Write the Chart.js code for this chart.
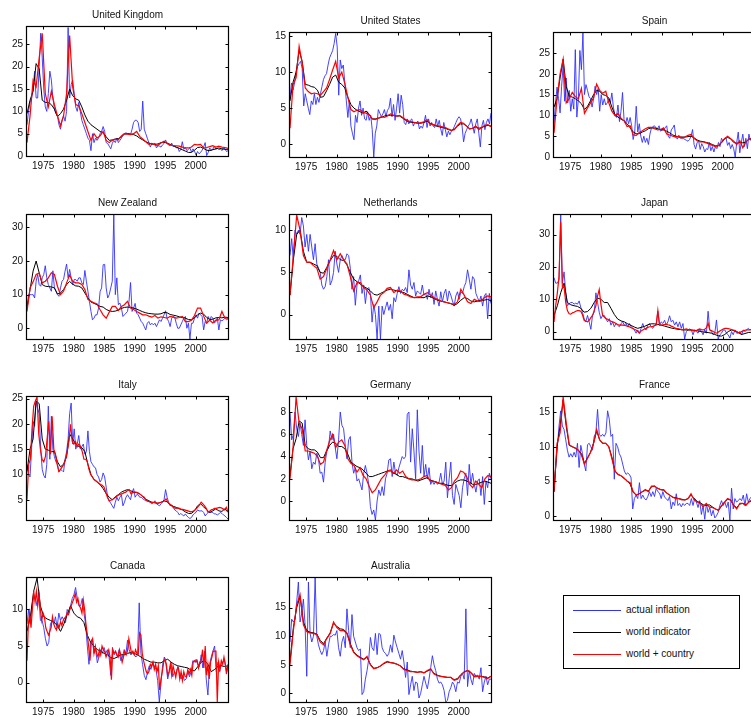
<!DOCTYPE html>
<html>
<head>
<meta charset="utf-8">
<script src="https://cdn.jsdelivr.net/npm/chart.js@4.4.1/dist/chart.umd.min.js"></script>
<style>
  html, body { margin: 0; padding: 0; background: #fff; overflow: hidden; }
  #fig { position: relative; width: 751px; height: 717px; overflow: hidden; background: #fff; }
  #fig canvas { position: absolute; }
  #legend { position: absolute; left: 563px; top: 595px; width: 175px; height: 72px;
            border: 1px solid #000; background: #fff;
            font: 10px "Liberation Sans", Arial, Helvetica, sans-serif; color: #111; }
  #legend .row { position: absolute; left: 0; height: 12px; width: 100%; }
  #legend .swatch { position: absolute; left: 9px; top: 6px; width: 48px; height: 0; border-top: 1px solid; }
  #legend .label { position: absolute; left: 62px; top: 0; line-height: 12px; white-space: nowrap; }
</style>
</head>
<body>
<div id="fig">
  <div id="legend">
    <div class="row" style="top:8px"><span class="swatch" style="border-color:#3030ff"></span><span class="label">actual inflation</span></div>
    <div class="row" style="top:30px"><span class="swatch" style="border-color:#000"></span><span class="label">world indicator</span></div>
    <div class="row" style="top:52px"><span class="swatch" style="border-color:#ff0000"></span><span class="label">world + country</span></div>
  </div>
</div>
<script>
// ---- axis tick labels ----
const yearTicks = [1975, 1980, 1985, 1990, 1995, 2000];
const xSpan = [1972.35, 2005.3];   // first and last observation

// ---- United Kingdom ----
const ukActual = [7,10,12,13,15,19,13,13,20,27.5,22,15,11,10,14,19,17,13,10.5,9.5,9,7,6,8,9,7.8,10,28.8,13,16,17,14,11,10,12,10,8,7,6,5,4,3.5,1.2,5,3,4,3.5,4,5,5.5,6.6,5.5,3,2.8,2.2,1.6,2.8,3.5,3,4,3,3.5,4,4.8,5,5.2,5,5,4.8,6,7.5,8,8,7.5,5.5,6,12.3,6,5,4,3,2,2.8,2.6,2.9,1.8,2.3,2.2,2,2.5,2.8,3.6,2.8,2.5,2.3,2.9,2.1,2.3,1.8,2,1,1.5,3.2,1.5,1.9,1.2,1.5,1.8,0.9,1.6,1.1,0.2,1,0.5,0.8,1.3,2,3,0.1,0.8,1.8,1.3,1.5,2.2,1.5,1.8,1.4,1.6,1.2,1.8,1.6,1,1.2];
const ukWorld = [9.5,12.5,14.5,20.7,19.5,12.5,12,12,11.5,10.5,8.8,9.5,10.5,12.5,15,13.5,12.8,12.5,11,9.2,7.8,7,6.5,6,5.5,5.2,4.3,3.5,3.6,3.8,3.9,4.3,4.9,5,4.9,4.8,4.5,4,3.6,3.2,2.9,2.7,2.6,2.7,3,3.1,2.9,2.6,2.3,2,1.7,1.4,1.1,0.8,0.8,1.3,1.9,2,1.7,1.3,1.2,1.4,1.6,1.8,1.6,1.5,1.5];
const ukBoth = [3,9,17,15.5,22,27.5,14,11,14.5,11.5,9,6.8,9,14,27,15.5,11.5,11.2,9.5,7.5,5.5,3.5,5,4,4.5,5.5,3.5,3,3.5,3.8,3.6,4.5,5,4.9,4.8,5,5.5,4.4,3.8,3.2,2.6,2.8,2.5,2.4,2.9,3.3,2.8,2.5,2.3,2.3,2.2,2,1.8,1.8,2,2.6,2.5,2.6,1.8,1.9,2.1,2.3,2,2.2,2,1.9,1.7];
const ukRange = [0, 28.9];
const ukTicks = [0, 5, 10, 15, 20, 25];

// ---- United States ----
const usActual = [6.4,8.5,7.5,8.5,10,10.8,11.2,11.5,10.5,5.3,7,6,5,4.1,6,5.5,7,5.5,6.5,5.8,7,8,9,9.5,9.8,11,12,12.5,13,14,15.4,13.5,6.8,11.7,10.5,11,8.5,6,3.7,6,2.5,1.5,0.6,4,3,5,6,4,5,3.5,3.3,4.5,3.3,4,2,-1.8,1.5,2.5,4.8,4.3,3.8,4.2,4.8,3.8,4.7,5,6.4,3.8,5.5,3.3,5,7,4.3,6.8,5.5,3,2.7,3.5,2.8,3.3,3.5,2.5,3,2.9,3.2,2.1,2.5,2.2,3,4,2.3,3.5,2.5,3,2.5,2.3,3.5,2.5,3.3,2.1,1.2,3,2,1,1.8,1.3,1.8,2,2.5,3,3.5,3.8,3.5,2.5,0.3,1.5,2,2.5,2.8,3.5,2.5,1.5,2.8,3.5,1.5,-0.4,2.5,3.3,2,3,3.5,2.8,4.3];
const usWorld = [6,8.6,10,13,11.5,8.3,8.2,8,7.9,7.5,6.5,6.6,7.4,8.3,9.3,9.6,8.6,8.3,7.8,6.5,5.5,5,4.7,4.5,4.3,4.6,4.1,3.5,3.5,3.6,3.7,3.9,4,4,4,3.9,3.9,3.6,3.3,3.1,3,3,2.9,2.9,3,3.2,2.9,2.7,2.5,2.4,2.3,2.2,2,1.9,2.1,2.5,2.8,2.8,2.5,2.1,2.2,2.4,2.2,2.3,2.5,2.6,2.5];
const usBoth = [2.2,8.3,9.2,13.6,11.3,7.8,7.3,7,7.1,7,6.8,7.3,7.8,9,10.3,11.5,9.2,10,8.4,6.5,4.8,4.5,4.7,4.8,4.4,4.3,4.1,3.5,3.4,3.6,3.8,3.7,3.9,4.2,4,3.9,4,3.7,3.4,3.2,3.1,3,2.9,3,3.1,3.4,2.8,2.7,2.6,2.5,2.4,2.3,2.1,1.9,2,2.6,3,2.9,2.5,2.1,2.2,2.5,2,2.3,2.6,2.7,2.4];
const usRange = [-1.8, 15.45];
const usTicks = [0, 5, 10, 15];

// ---- Spain ----
const esActual = [8,13,16.8,14,10.6,17,22,13.4,19,13,16,11,14,11.5,25.8,9.6,14,25.6,21,29.8,15,17.4,16,14.5,14,12,14,17,15,16.5,11,15,12.5,14,12.5,13,14,13,15.4,12,10,9.5,12.5,8.5,11,15.5,9,8,9.5,8,9.5,7.5,4.2,6,12.2,6,8,5,3.5,5,3.5,4.5,3,5.5,7,7.3,7.5,7,6.8,7.5,6.2,6.5,6.5,7,7.5,5,4.5,6.5,7,7.7,4.8,4.3,5.2,4.5,4.8,4.5,4.2,4,3.8,4.2,5,6.6,3,1.9,3.5,3.8,1.8,3.2,2.5,1.2,2,1.8,3.5,1.5,2.5,1.2,2.5,2,3.5,2.5,4.5,3.8,4.5,4.5,2.8,3.5,2,3,2,0,3.5,6,1,3.5,5.5,2.5,4.5,2,5.5,4,5,4.2,4.5];
const esWorld = [12,14,19,23.5,17,14.6,14.4,14,13.5,12.8,11.4,12.2,13.5,15,16,15.8,15,14.8,14.2,12,10.2,9.6,9.1,8.7,8,7,6,5.6,5.6,6,6.3,6.8,7,7,6.8,6.6,6.5,6.2,5.8,5.3,5,4.8,4.8,4.8,4.9,5,4.6,4.1,3.8,3.7,3.5,3.3,3,2.7,2.7,3.4,4.4,4.7,4.4,3.5,3.3,3.5,3.4,3.6,4.3,4.5,4.5];
const esBoth = [5.8,14,20,23.5,13,14,15.5,14.5,14,16.5,10.5,11.8,13,14.2,17.5,16,15.3,15.8,13,11,10,10.5,9.3,8.7,7.3,7.5,5.3,5.2,5.9,6.3,6.8,7.1,7.1,6.8,6.5,6.6,7,5.5,5.3,5,4.8,5,4.5,4.8,5.2,5.4,4.5,3.9,3.6,3.6,3.4,3.1,2.8,2.5,2.8,3.5,4.4,5,4.4,3.8,3,3.9,2.2,3.6,4.3,4.5,4.5];
const esRange = [0, 29.8];
const esTicks = [0, 5, 10, 15, 20, 25];

// ---- New Zealand ----
const nzActual = [6,10,10,10,10,9,14,16,13,12.5,15,16,18.6,15,13,12,11,17.1,12,11,10,9.5,12,14,14.5,17,19.1,15,17.5,15,13,14.5,14.5,14,15,15,13.5,13,17.2,14,11,8,5,2.5,3,4,4,6,10.9,12,18.9,19,12,9,10,12,14,33.7,10,15,7,7.5,6,3.5,4,4.5,5,8,13.6,5,6,7.4,4.5,4,3,2,1.5,0.5,-0.5,1.5,2,1,1.5,1,1.5,0.5,1.5,2.5,2,3,4,5.2,3,2,0.5,3,3.5,3.3,1.5,0,0,1,2,3,3.5,0,1.5,-3.2,1.5,1.5,3,4,3,4.5,4,3.5,-0.5,2,1.5,3.5,2.5,3.5,3,1.5,2,3,-0.5,2.5,2.2,2.5,3,2.5,2.8];
const nzWorld = [6,11.5,17,20,16.5,13,12.5,12.4,12.3,12,10.2,10.5,11.5,13,13.9,13.1,12.6,12.5,12,10.5,9,7.8,7.4,7,6.5,6.3,5.6,5.2,5,5.1,5.4,5.9,6.2,6.3,6.2,6,5.7,5.3,4.9,4.6,4.4,4.3,4.2,4.2,4.3,4.7,4.6,4.1,3.9,3.7,3.4,3.2,3,2.6,2.5,3.1,4,4.5,4.2,3.2,2.6,2.7,3.1,3.2,3.1,3.3,3.2];
const nzBoth = [5,12,13.8,16,16.4,13.5,14,15,16.5,16,12.5,10,11,13.5,15.8,14,13.5,13.5,13,11.5,8.6,8,7.6,7.2,5.5,4,3,4.8,6.5,6.5,5.3,6.5,7,8,6,5.6,5,4.5,4,4,3.6,3.3,3.8,3,3.4,3.2,3,3.5,3.3,3,3.2,3.5,2,2,2.4,3.8,6,6,3.6,1.5,2.4,1.6,2.4,2.5,5,3,3];
const nzRange = [-3.2, 33.7];
const nzTicks = [0, 10, 20, 30];

// ---- Netherlands ----
const nlActual = [7,9,6.5,10,9.5,10,9.5,11.5,10.5,8,9.5,7.5,9.5,8,6.5,8.4,6,5.5,5,3.5,3,3.3,4.5,6.5,3.5,4,5,7.5,6,5,6.5,7,6.5,6.5,7.2,7,5.5,3,4.5,1.1,3.5,4,4.7,2.5,3.5,1.3,3,3.2,2.5,-0.9,1.2,0,-2.9,1,-2.9,1,0,0.8,1.5,0.5,1.2,-0.5,2,1.5,2.5,3.3,2.5,3,2.8,3.2,2.6,5.3,3.5,3,3.8,2.2,2.8,2.6,2.4,3.5,2.3,2.5,1.8,3,2,2.6,1.2,2.8,1.8,1,2.7,1.5,2.5,3,1.6,2.8,2.3,1.6,1,2.2,2.7,1.8,2.7,2.5,3.3,3.8,5.3,4.2,3,4.5,4.2,2.5,2,1.5,2.2,1,2.2,2.5,-0.5,2.5,1.3];
const nlWorld = [2.3,6.5,9.5,10,7.5,6.2,6.2,6,5.8,5,4.9,5.6,6.4,7,6.9,6.5,6.4,5.9,5,4.2,3.9,3.6,3.3,3.1,2.8,2.4,2.3,2.5,2.7,2.9,3,2.9,2.8,2.7,2.6,2.4,2.2,2,2,2,2,2.2,2.1,1.9,1.7,1.6,1.5,1.4,1.3,1.1,1.3,1.7,2,1.9,1.6,1.5,1.6,1.7,1.7,1.8,1.6];
const nlBoth = [2.3,7,11.8,10,7,6.2,6.2,5.8,5.5,4.2,4.5,5.5,6.5,7.6,6.5,7.2,6.5,6,4.5,2.8,3.8,3.8,3.2,2.9,2.3,0.8,1.5,2.3,2.6,3.1,3.2,2.6,2.9,2.8,2.4,2.3,2.1,2,2.1,2.1,2.4,2.6,2.3,2,1.8,1.6,1.5,1.4,1.3,1.2,1.5,3,2.3,1.5,1.3,1.8,1.6,1.6,2,2.2,2.1];
const nlRange = [-2.9, 11.8];
const nlTicks = [0, 5, 10];

// ---- Japan ----
const jpActual = [16.7,15,15,16,36.1,15,18.5,12,8,8.5,9,9,8.5,8.8,8.5,9.5,7.5,6,4,3,5,3,0.7,5,6,12,9,6,4,5,5,4,3,4,2,3,1.5,2.5,2,1.5,2.5,3,2,2.5,1.5,2.5,1.5,1,0.5,-0.5,0.5,-0.5,1,2.5,1,0.5,2,2.5,1.5,1,2,2,6.3,2,3,2.5,3.5,2,3,4.9,3,3.5,2,3,1.5,3,1,2.5,-2.3,0,0.5,0.8,0.5,-1,0.5,0,-0.5,0.8,0,-1,0.5,-0.5,6.3,0.5,0,-1,-0.5,3.6,-2.3,-1,-0.5,0.5,0.5,-0.5,-1,-2,0,-1,0.5,-0.5,-0.5,0,-1,0.5,0,0.5,1,0.5,0.8,0.5,1];
const jpWorld = [5,8,12,15,9,8.3,8,7.8,7.2,6,6.2,7.2,9,10.4,10,9,9,7.2,5.3,3.9,3.3,3,2.4,1.9,1.4,1,1.3,1.6,2.1,2.4,2.4,2.2,2,1.7,1.4,1.1,0.9,0.7,0.6,0.5,0.5,0.5,0.4,0.2,0,-0.2,-0.3,-0.5,-0.9,-1.3,-1.4,-0.9,0,0.5,0.2,-0.3,-0.9,-0.6,-0.3,-0.2,0];
const jpBoth = [3,8,12,17,34,13.5,14,9,6.5,5.5,5.4,5.8,6,6.3,6.5,6.5,6.3,5.2,3.5,3.2,3,3.5,4.3,5,6.5,8,11,13,8.5,5,4.5,4,3.8,3.5,3.2,3,2.8,2.5,2.2,2,2.1,2,1.9,1.8,1.6,1.5,1.2,1,0.7,0.5,0,-0.5,0.2,0.5,0.8,1,1.3,1.5,1.5,1.6,1.8,2,6.5,2,2,2.1,2.2,2.3,2.1,2,1.7,1.5,1.2,1,0.9,0.8,0.6,0.5,0.7,0.8,0.6,0.5,0.4,0.3,0.2,0.3,0.6,0.8,0.6,0.5,0.7,1.2,2.6,0.5,0.3,0,-0.3,-0.5,-0.2,0.2,0.5,0.8,1,1,0.9,0.8,0.6,0.5,0.3,0,-0.2,-0.3,0,0.2,0.4,0.5,0.5,0.5,0.7,0.8,1.2];
const jpRange = [-2.3, 36.1];
const jpTicks = [0, 10, 20, 30];

// ---- Italy ----
const itActual = [12,10,9.5,15,20.5,19.5,24.5,23,22,15,11,9.8,9.3,12,23.5,13,21.5,15,13.5,12.5,12,10.5,11,10.8,10.5,13,14.5,17,22,24.1,16,19,15,16,17.7,15,15.5,16,14,14.5,18.6,14.5,12.5,12,11.5,11.3,10,9.5,8.5,9,10.3,9.5,7.5,5.5,4.8,4.3,3.8,3.3,4.5,5.5,4.8,5.5,6,3.8,4.5,5.5,6,5.5,5,6.5,7.2,5.5,6,6,5.5,5.5,5.2,5,4.8,4.8,4.7,4.5,4.2,4.4,4.8,4.2,4,3.8,4.2,4.5,5,7,5.5,4.5,3.8,4,3.5,3,2.8,2.5,2,2.3,2,1.8,2.2,1.8,1.5,1.3,1.5,2,2.3,2.5,3,2.8,2.8,2.8,2.5,1.8,2.2,2.5,2.5,2.5,2.5,2.2,2.2,2,2.2,2.5,2.3,2,1.8,1.5,1.2];
const itWorld = [10.6,15,17,24.5,24,17,15,14.8,14.5,14.5,12.5,11.5,12,13.5,18,17,16,15.5,15.3,14.5,12,10,9,8.5,8,7.2,6.2,5.5,5,5.6,6,6.5,6.8,7,6.8,6.5,6.4,6.2,5.6,5.1,4.8,4.5,4.4,4.3,4.5,4.8,4.6,4,3.7,3.5,3.2,3,2.6,2.3,2.3,2.8,3.8,4.2,3.6,3,2.5,2.8,3.2,2.8,2.7,3.2,2.5];
const itBoth = [5,12,13,19,23.5,24.5,25.3,18,15,13,12.5,13.5,17,20.5,14,21.5,15,14,12,10.6,11,11.5,12,13,14.5,16.5,19.9,16.5,16,16.5,15.5,16,15.5,14.5,13,13,12.5,11,10,9.5,9,8.8,8.5,8.2,8,7.8,7.5,6.5,5.5,4.8,4.9,5,5.3,5.5,5.8,6,6.1,6.2,6.4,6.5,6.8,7,6.2,6.4,6.5,6.5,6.4,6.2,6,5.7,5.5,5,4.7,4.6,4.5,4.5,4.5,4.4,4.3,4.4,4.5,4.6,4.8,5.2,4.6,4.2,3.9,3.6,3.4,3.3,3.4,3.3,3.1,3.1,3,2.9,2.8,2.7,2.6,2.7,2.9,3.2,3.6,4,4.5,4.2,3.8,3.3,2.6,2.7,3,3.1,3.3,3.3,3.4,3.5,3.4,3.2,3,3.5,2.6];
const itRange = [1.0, 25.3];
const itTicks = [5, 10, 15, 20, 25];

// ---- Germany ----
const deActual = [8,5.5,6,8,6.5,5.8,7,6,5,7.3,5,3.7,4.5,2.9,3.5,3.3,4.3,3.8,2.5,2.6,1.7,3.5,4.5,4.8,6.3,5.5,6,4.8,3.8,5.5,8,6.8,6.5,5,3.8,5.5,5.8,3.5,2.5,3,1.8,2,1.5,1,2.5,3.2,2.5,1.5,-0.5,-1.2,-0.8,-1.7,0,1,0.5,1.3,0.5,2,2.5,3.7,3.8,2.2,3.5,2.5,2.3,3,3.5,4,3.8,4,7.8,8,3.5,6.5,4.5,2,8.2,4.5,2.5,5,2.2,3.3,2,3,1.5,1.8,1.5,1.8,1.5,1.7,2.5,1.5,1.8,3.5,0.3,2,3.5,0.5,-0.3,1.5,1,0.5,-0.6,1.2,2,2.5,0.5,3.3,1.5,2.5,1.5,0.8,1.8,2,0.5,2.2,-0.3,1.8,1.2,2.5,2];
const deWorld = [2.3,4.7,5.6,7.2,7,5,4.7,4.6,4.6,4.4,3.9,3.9,4.5,5,5.3,5.2,4.9,4.9,4.7,4.2,3.5,3.3,3.1,3,2.8,2.5,2.2,2.2,2.3,2.4,2.5,2.6,2.7,2.7,2.5,2.4,2.2,2.2,2.1,2,2,1.9,1.8,1.9,2,2.1,1.9,1.8,1.7,1.6,1.6,1.5,1.4,1.4,1.6,1.8,1.9,1.9,1.8,1.7,1.5,1.5,1.6,1.7,1.8,1.7,1.6];
const deBoth = [2,4.8,9.35,7,6.5,4.5,4.5,4.4,4.3,4,3.3,3.5,4.5,5.4,6,4.8,5.3,5.5,5,3.8,3.4,3.2,2.6,3,2.3,2,1.3,0.75,1,1.5,2,2.3,2.7,2.8,2.5,2.8,2.5,2.7,2.2,2,1.9,1.9,1.9,2,2.2,2.3,1.8,1.8,1.7,1.6,1.5,1.4,1,1.2,1.8,2.1,2.7,2.6,2.2,1.5,1.2,1.8,1.5,1.2,2,2.3,2.2];
const deRange = [-1.7, 9.35];
const deTicks = [0, 2, 4, 6, 8];

// ---- France ----
const frActual = [3.5,7,10,13,15.2,13,12.5,11,9.5,8.5,9,8.5,9.2,8.5,10.5,7,10.2,9,7.5,6.5,10.3,10.5,10,9.5,11.5,12,15.4,11.8,11.5,11.8,11.5,12,15.2,14,11.5,11.8,5.3,10.5,10,9,8.5,7.5,6.5,6,6.2,6,5.5,1,2.5,3,2.5,4.8,2.5,3,2.5,2.3,2.8,3.5,2.8,3.5,2.8,4,3.5,3.3,2.5,3.5,2.7,2.5,2.2,2.8,1,2,1.5,3.2,1.5,1.8,1.3,1.8,1.5,1.8,1.8,1.5,2.5,1.5,2.5,2,1.2,2.2,0.2,1.5,-0.5,1.8,0.5,1.2,0,0.8,-0.3,0,0.5,1.5,2.2,1.5,2,1.2,2,-0.6,4,1,2.5,2,2.2,2.5,2.2,3,1.5,3.2,2,2.5,2.8,2.5,2.8];
const frWorld = [3.5,10,13,16.8,13,10.2,10,9.8,9.5,9,7.6,8.4,9.2,10.5,12.3,11,10.5,10.5,10,8.5,6.5,6,5.8,5.4,5.1,4.6,3.4,3,3.2,3.5,3.7,3.6,4.2,4.3,4,3.8,3.7,3.3,3,2.7,2.6,2.5,2.4,2.3,2.5,3,2.5,2.1,1.9,1.6,1.5,1.6,1.3,1,0.8,1.4,2,2.4,2.3,1.5,1.2,1.7,1.8,1.6,2,2.2,2.2];
const frBoth = [3.5,10.5,12,17.2,13.5,10.3,10,9.8,9.5,8.8,7.5,8.3,9.2,10.5,12.5,11,10.5,10.5,10,8.3,6.5,6,5.8,5.5,5,4.8,3.5,3,3.2,3.5,3.8,3.5,4.3,4.3,4,3.8,3.8,3.3,3,2.7,2.5,2.5,2.3,2.3,2.5,3.2,2.3,2,1.8,1.3,1.8,1.3,1.2,1,0.8,1.5,2,2.5,2.3,1.5,1,1.8,1.8,1.5,2,2.3,2.2];
const frRange = [-0.6, 17.2];
const frTicks = [0, 5, 10, 15];

// ---- Canada ----
const caActual = [8,10,8,10.5,12,11.5,10.5,12.3,8.5,8.5,7.5,6,5,5.5,8,8.5,8,9,7.5,9.5,8.5,9,8.5,8.2,10,9.5,10.5,11.5,12,13,11.5,10.5,10.5,11.5,9.5,8,5,2.5,5.5,6,4,4.5,2.7,3.5,4.5,4,4.8,4,4.5,3.5,1,4.8,3.8,4.2,3.5,4.5,3,3.5,4.5,3.8,5.8,4.5,3.8,4.2,3.8,3.5,3.8,10.9,4,2.5,1,0.4,1.5,2.3,1.8,2.8,2.2,1.8,0.3,-2.65,0,2.5,3.5,2.5,0.5,1.5,2.8,0.8,1.5,1.2,2.2,1.3,0.5,1,0.3,0.5,1.5,0.8,1.5,3,2.8,3.2,2.5,2.2,3.8,2,4.3,0.5,-1.7,2.5,3.5,4.3,5,1.5,2.8,1.5,2.5,2.8,3,1.2,2.2];
const caWorld = [7,9,12.5,14.3,10.5,9,8.7,8.5,8.3,7.8,7,8,9.3,10.5,9.5,9,8.8,8.2,6.5,5.5,5,4.5,4.3,4,3.8,3.4,3.3,3.5,3.8,3.8,4,4.1,4,3.8,3.5,3.2,3,2.8,2.8,2.7,2.7,3,3.2,2.8,2.5,2.3,2.2,2.1,2,1.7,1.6,2.2,2.8,3,2.5,1.5,1.8,2.2,2.3,2.2,2.3];
const caBoth = [3,8,9.5,7.5,10,12.5,11,12.5,10.5,12,10,8.5,9.5,9,7.5,7,6.5,7,7.5,9,8,7.5,7.2,8,7.5,8.3,7.8,8.5,8.8,9,9.5,9.3,10,10.5,11,11.5,12.2,11,11.5,10.5,10.2,9.5,11.3,10,8,6.5,5,3,5.5,6,4,5,4,3.5,4.5,3.8,5,4.5,4.2,3.5,4,4.5,3.5,0.4,4.5,4,4.3,3.8,3.5,4.5,3.8,2.8,3.5,4.3,3.8,4.3,6,5,4,4.3,3.8,4.5,4,3.8,6.8,6.5,4,3,2.2,1.5,1.2,1.5,2.5,2.2,2.8,1.8,2.5,1.5,2.3,-1,0.5,1.5,2.8,3.2,2.5,1,1.5,2.5,1,2.3,1.5,0.7,1.8,2,0.5,1.5,0.3,1.5,0.8,0.8,1.8,1.2,1.8,1,2.8,3,2.8,3,2,2.8,3,4.5,2,5,1,2.5,0.5,2.8,3.5,4.3,4.3,4.3,-2.65,2.8,1.8,3,2.5,3.5,2.5,1.5,2.5];
const caRange = [-2.65, 14.3];
const caTicks = [0, 5, 10];

// ---- Australia ----
const auActual = [9,13,12.5,13,16,19.5,12.5,14,16.5,12,3,19.5,10.5,9,10,20.2,10,8.5,7.5,6.8,7.5,9,6.5,8.5,10,10,10.3,10.2,11,8,6.5,9,10,8,14.8,11,8,13.8,10,9,8,7.5,7.8,-0.2,0.3,2.5,4,6,9.8,8,7.5,10.5,6.8,10.5,10.3,8,7.3,7,6.5,7,8.5,7.2,10.2,9,8,7,6,7.5,5.5,2.8,5.5,-0.2,1.5,3,0.5,2,1.8,-0.8,0,1.5,3,1.8,0.8,2.5,4.5,6.6,5,4,2.5,1.8,2,1.5,0.5,-1.5,-1.2,0.3,1,2,1.5,0.3,2,1.8,3,3.5,2.5,14.8,1.2,4,2.5,1.5,3.5,3,3.2,2.5,4.5,0.3,2,3,1.5,2.5,2.5];
const auWorld = [5.5,11.5,15,17,12.5,11,10.7,10.6,10.4,9.3,8.7,9.7,10.6,12.3,11.7,11.3,11.2,10.6,8.7,7.3,6.7,6.3,6,6.3,5.1,4.4,4.5,4.8,5.2,5.5,5.4,5.3,5.1,4.8,4.3,4.1,3.9,3.8,3.7,3.8,3.6,3.9,4.2,3.5,3.2,3,2.9,2.8,2.8,2.4,2.6,3.3,3.8,4,3.7,3,3,3,2.9,2.7,3];
const auBoth = [5,11,15.5,17.3,12,10.8,10.6,10.5,10.3,9,8.5,9.6,10.5,12.5,11.5,11,11,10.5,8.5,7.2,6.6,6.2,5.9,6.5,5,4.3,4.5,4.8,5.3,5.6,5.4,5.3,5.1,4.8,4.2,4,3.8,3.8,3.7,3.8,3.6,4,4.3,3.4,3.1,3,2.9,2.8,2.8,2.3,2.5,3.2,3.7,4,3.6,2.9,3,3,2.8,2.6,3];
const auRange = [-1.5, 20.2];
const auTicks = [0, 5, 10, 15];

// ---- figure assembly ----
const panels = [
  { title: 'United Kingdom', actual: ukActual, world: ukWorld, both: ukBoth, range: ukRange, ticks: ukTicks },
  { title: 'United States',  actual: usActual, world: usWorld, both: usBoth, range: usRange, ticks: usTicks },
  { title: 'Spain',          actual: esActual, world: esWorld, both: esBoth, range: esRange, ticks: esTicks },
  { title: 'New Zealand',    actual: nzActual, world: nzWorld, both: nzBoth, range: nzRange, ticks: nzTicks },
  { title: 'Netherlands',    actual: nlActual, world: nlWorld, both: nlBoth, range: nlRange, ticks: nlTicks },
  { title: 'Japan',          actual: jpActual, world: jpWorld, both: jpBoth, range: jpRange, ticks: jpTicks },
  { title: 'Italy',          actual: itActual, world: itWorld, both: itBoth, range: itRange, ticks: itTicks },
  { title: 'Germany',        actual: deActual, world: deWorld, both: deBoth, range: deRange, ticks: deTicks },
  { title: 'France',         actual: frActual, world: frWorld, both: frBoth, range: frRange, ticks: frTicks },
  { title: 'Canada',         actual: caActual, world: caWorld, both: caBoth, range: caRange, ticks: caTicks },
  { title: 'Australia',      actual: auActual, world: auWorld, both: auBoth, range: auRange, ticks: auTicks }
];

// plot rectangles: [left, top, bottom] in page pixels
const frames = [
  [27, 27, 156], [290, 33, 157], [554, 33, 157],
  [27, 215, 339], [290, 215, 339], [554, 215, 339],
  [27, 397, 520], [290, 397, 520], [554, 397, 520],
  [27, 578, 702], [290, 578, 702]
];
const PLOT_W = 201, PAD_L = 30, PAD_R = 6, PAD_T = 22, PAD_B = 18, TICK = 2.5;
const FONT = { family: '"Liberation Sans", Arial, Helvetica, sans-serif', size: 10, weight: 'normal' };
const INK = '#111';

// series samples are evenly spaced over the observation window
function toPoints(values) {
  const n = values.length, a = xSpan[0], b = xSpan[1];
  return values.map((v, i) => ({ x: a + (b - a) * i / (n - 1), y: v }));
}

// axes box with inward ticks on all four sides
const boxTicks = {
  id: 'boxTicks',
  afterDatasetsDraw(chart) {
    const { ctx, chartArea: a, scales: { x, y } } = chart;
    ctx.save();
    ctx.strokeStyle = '#000';
    ctx.lineWidth = 1;
    ctx.beginPath();
    x.ticks.forEach(t => {
      const px = Math.round(x.getPixelForValue(t.value)) + 0.5;
      ctx.moveTo(px, a.bottom); ctx.lineTo(px, a.bottom - TICK);
      ctx.moveTo(px, a.top); ctx.lineTo(px, a.top + TICK);
    });
    y.ticks.forEach(t => {
      const py = Math.round(y.getPixelForValue(t.value)) + 0.5;
      ctx.moveTo(a.left, py); ctx.lineTo(a.left + TICK, py);
      ctx.moveTo(a.right, py); ctx.lineTo(a.right - TICK, py);
    });
    ctx.stroke();
    ctx.lineWidth = 1.2;
    ctx.strokeRect(Math.round(a.left) - 0.5, Math.round(a.top) - 0.5,
                   Math.round(a.width) + 1, Math.round(a.height) + 1);
    ctx.restore();
  }
};

const fig = document.getElementById('fig');
panels.forEach((p, k) => {
  const [left, top, bottom] = frames[k];
  const canvas = document.createElement('canvas');
  const w = PAD_L + PLOT_W + PAD_R, h = PAD_T + (bottom - top) + PAD_B;
  canvas.width = w; canvas.height = h;
  canvas.style.left = (left - PAD_L) + 'px';
  canvas.style.top = (top - PAD_T) + 'px';
  canvas.style.width = w + 'px'; canvas.style.height = h + 'px';
  fig.insertBefore(canvas, document.getElementById('legend'));

  new Chart(canvas.getContext('2d'), {
    type: 'line',
    data: {
      datasets: [
        { label: 'world + country', data: toPoints(p.both), borderColor: '#ff0000', borderWidth: 1.2, order: 1 },
        { label: 'world indicator', data: toPoints(p.world), borderColor: '#000000', borderWidth: 1, order: 2 },
        { label: 'actual inflation', data: toPoints(p.actual), borderColor: '#3030ff', borderWidth: 0.9, order: 3 }
      ]
    },
    options: {
      responsive: false,
      animation: false,
      devicePixelRatio: 1,
      events: [],
      elements: { point: { radius: 0 }, line: { tension: 0, fill: false } },
      layout: { padding: { left: 0, right: PAD_R, top: 0, bottom: 0 } },
      plugins: {
        legend: { display: false },
        tooltip: { enabled: false },
        title: { display: true, fullSize: false, text: p.title, color: INK, font: FONT, padding: { top: 4, bottom: 6 } }
      },
      scales: {
        x: {
          type: 'linear', min: xSpan[0], max: xSpan[1],
          afterBuildTicks: s => { s.ticks = yearTicks.map(v => ({ value: v })); },
          afterFit: s => { s.height = PAD_B; },
          grid: { display: false, drawTicks: false },
          border: { display: false },
          ticks: { color: INK, font: FONT, padding: 4, maxRotation: 0, autoSkip: false, callback: v => String(v) }
        },
        y: {
          type: 'linear', min: p.range[0], max: p.range[1],
          afterBuildTicks: s => { s.ticks = p.ticks.map(v => ({ value: v })); },
          afterFit: s => { s.width = PAD_L; },
          grid: { display: false, drawTicks: false },
          border: { display: false },
          ticks: { color: INK, font: FONT, padding: 4, autoSkip: false, callback: v => String(v) }
        }
      }
    },
    plugins: [boxTicks]
  });
});
</script>
</body>
</html>
